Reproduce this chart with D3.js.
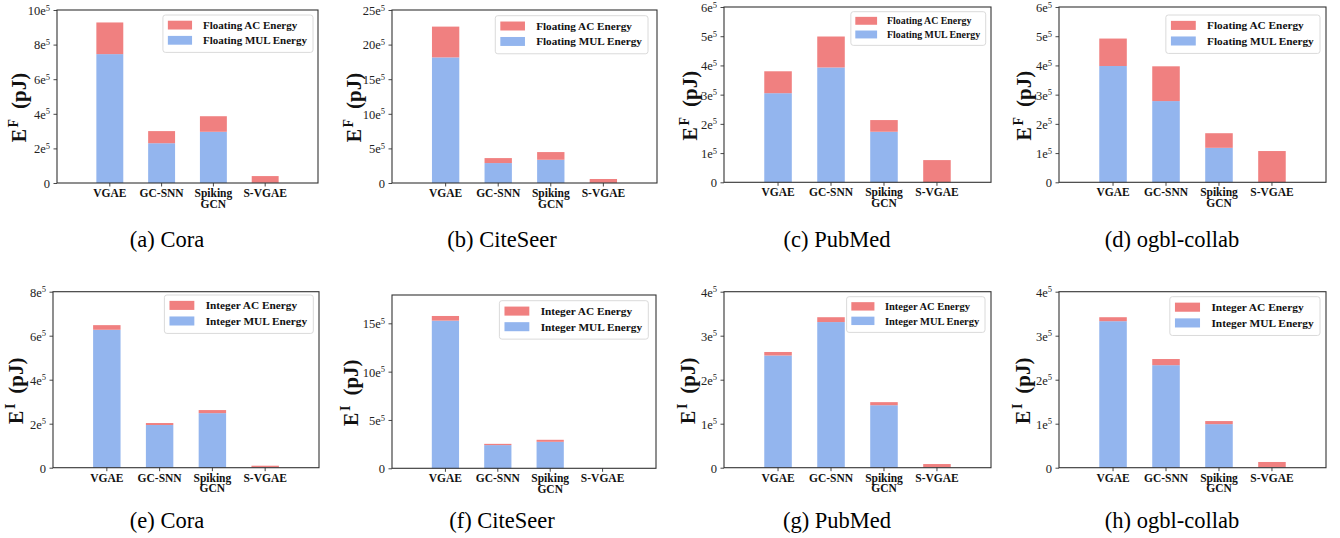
<!DOCTYPE html>
<html><head><meta charset="utf-8">
<script src="https://cdn.jsdelivr.net/npm/d3@7"></script>
<style>body{margin:0;background:#fff} svg{display:block}</style>
</head><body><svg id="chart" width="1340" height="538"></svg>
<script>
// ---------------- DATA ----------------
const categories = ["VGAE", "GC-SNN", "Spiking\nGCN", "S-VGAE"];
const datasets = ["Cora", "CiteSeer", "PubMed", "ogbl-collab"];
const captionLetters = ["a", "b", "c", "d", "e", "f", "g", "h"];

// Floating point energy (pJ)
const floatMulCora     = [745000, 230000, 296000, 1000];
const floatAcCora      = [183000, 70000, 90000, 39000];
const floatMulCiteSeer = [1815000, 288000, 336000, 2000];
const floatAcCiteSeer  = [445000, 72000, 111000, 56000];
const floatMulPubMed   = [305000, 393000, 173000, 1000];
const floatAcPubMed    = [75000, 106000, 40000, 75000];
const floatMulOgbl     = [398000, 278000, 118000, 1000];
const floatAcOgbl      = [94000, 119000, 50000, 106000];

// Integer energy (pJ)
const intMulCora     = [627000, 194000, 248000, 2000];
const intAcCora      = [21000, 9000, 14000, 7000];
const intMulCiteSeer = [1528000, 240000, 274000, 500];
const intAcCiteSeer  = [48000, 13000, 21000, 500];
const intMulPubMed   = [255000, 331000, 142000, 1000];
const intAcPubMed    = [8000, 11000, 7000, 7300];
const intMulOgbl     = [333000, 233000, 99000, 1000];
const intAcOgbl      = [9000, 14000, 7000, 12000];

// y axis limits and ticks (mantissa of 10^5)
const floatYMax  = [10e5, 25e5, 6e5, 6e5];
const floatTicks = [[0,2,4,6,8,10],[0,5,10,15,20,25],[0,1,2,3,4,5,6],[0,1,2,3,4,5,6]];
const intYMax    = [8e5, 17.93e5, 4e5, 4e5];
const intTicks   = [[0,2,4,6,8],[0,5,10,15],[0,1,2,3,4],[0,1,2,3,4]];

const floatLegend = ["Floating AC Energy", "Floating MUL Energy"];
const intLegend   = ["Integer AC Energy", "Integer MUL Energy"];

// ---------------- LAYOUT (styles/positions) ----------------
const colorMul = "#93b5ee";
const colorAc  = "#f08080";
const serif = "'Liberation Serif', 'Times New Roman', serif";

const layout = [
  {L:57,  T:10,    R:318, B:183,   lr:313,   lt:15,    lfs:11.0, ylx:31},
  {L:392, T:10,    R:657, B:183,   lr:648,   lt:15.7,  lfs:11.2, ylx:31},
  {L:724, T:7,     R:991, B:182.3, lr:985.7, lt:11.7,  lfs:9.9,  ylx:27},
  {L:1059,T:7,     R:1326,B:182.3, lr:1320,  lt:15,    lfs:11.3, ylx:28},
  {L:53,  T:291.7, R:319, B:467.7, lr:313.3, lt:295,   lfs:11.3, ylx:30},
  {L:392, T:295,   R:656, B:468.3, lr:648.3, lt:300.7, lfs:11.3, ylx:34},
  {L:724, T:291.7, R:991, B:467.7, lr:985,   lt:296.7, lfs:10.5, ylx:29},
  {L:1059,T:291.7, R:1326,B:467.7, lr:1320,  lt:296.7, lfs:11.4, ylx:29}
];

const panels = [
  {mul: floatMulCora,     ac: floatAcCora,     ymax: floatYMax[0], ticks: floatTicks[0], legend: floatLegend, sup: "F", ds: datasets[0]},
  {mul: floatMulCiteSeer, ac: floatAcCiteSeer, ymax: floatYMax[1], ticks: floatTicks[1], legend: floatLegend, sup: "F", ds: datasets[1]},
  {mul: floatMulPubMed,   ac: floatAcPubMed,   ymax: floatYMax[2], ticks: floatTicks[2], legend: floatLegend, sup: "F", ds: datasets[2]},
  {mul: floatMulOgbl,     ac: floatAcOgbl,     ymax: floatYMax[3], ticks: floatTicks[3], legend: floatLegend, sup: "F", ds: datasets[3]},
  {mul: intMulCora,       ac: intAcCora,       ymax: intYMax[0],   ticks: intTicks[0],   legend: intLegend,   sup: "I", ds: datasets[0]},
  {mul: intMulCiteSeer,   ac: intAcCiteSeer,   ymax: intYMax[1],   ticks: intTicks[1],   legend: intLegend,   sup: "I", ds: datasets[1]},
  {mul: intMulPubMed,     ac: intAcPubMed,     ymax: intYMax[2],   ticks: intTicks[2],   legend: intLegend,   sup: "I", ds: datasets[2]},
  {mul: intMulOgbl,       ac: intAcOgbl,       ymax: intYMax[3],   ticks: intTicks[3],   legend: intLegend,   sup: "I", ds: datasets[3]}
];

const svg = d3.select("#chart");

panels.forEach((p, i) => {
  const lay = layout[i];
  const g = svg.append("g");

  const x = d3.scaleBand().domain(categories).range([lay.L, lay.R])
    .paddingInner(0.48).paddingOuter(0.76);
  const y = d3.scaleLinear().domain([0, p.ymax]).range([lay.B, lay.T]);

  const rows = categories.map((c, k) => ({cat: c, mul: p.mul[k], ac: p.ac[k]}));
  const stack = d3.stack().keys(["mul", "ac"])(rows);
  const colors = {mul: colorMul, ac: colorAc};

  stack.forEach(layer => {
    g.append("g").selectAll("rect").data(layer).join("rect")
      .attr("x", d => x(d.data.cat))
      .attr("width", x.bandwidth())
      .attr("y", d => y(d[1]))
      .attr("height", d => Math.max(0, y(d[0]) - y(d[1])))
      .attr("fill", colors[layer.key]);
  });

  // y axis
  const yAxis = d3.axisLeft(y).tickValues(p.ticks.map(t => t * 1e5))
    .tickSize(3.5).tickPadding(3.5).tickFormat("");
  const ya = g.append("g").attr("transform", `translate(${lay.L},0)`).call(yAxis);
  ya.select(".domain").remove();
  ya.selectAll(".tick line").attr("stroke", "#333").attr("stroke-width", 0.9);
  ya.selectAll(".tick").each(function(d) {
    const m = Math.round(d / 1e5);
    const t = d3.select(this).append("text")
      .attr("x", -7).attr("y", 0)
      .attr("text-anchor", "end")
      .attr("fill", "#222")
      .style("font-family", serif)
      .style("font-size", "12.5px");
    if (m === 0) {
      t.attr("dy", "0.35em").text("0");
    } else {
      t.append("tspan").attr("dy", "0.35em").text(m + "e");
      t.append("tspan").attr("dy", "-0.5em").style("font-size", "8.5px").text("5");
    }
  });

  // x axis
  const xAxis = d3.axisBottom(x).tickSize(3.5).tickFormat("");
  const xa = g.append("g").attr("transform", `translate(0,${lay.B})`).call(xAxis);
  xa.select(".domain").remove();
  xa.selectAll(".tick line").attr("stroke", "#333").attr("stroke-width", 0.9);
  xa.selectAll(".tick").each(function(d) {
    const lines = d.split("\n");
    const t = d3.select(this).append("text")
      .attr("text-anchor", "middle").attr("fill", "#111")
      .style("font-family", serif).style("font-weight", "bold")
      .style("font-size", "11.5px");
    lines.forEach((ln, li) => {
      t.append("tspan").attr("x", 0).attr("y", 14 + li * 10.5).text(ln);
    });
  });

  // frame
  g.append("rect")
    .attr("x", lay.L).attr("y", lay.T)
    .attr("width", lay.R - lay.L).attr("height", lay.B - lay.T)
    .attr("fill", "none").attr("stroke", "#333").attr("stroke-width", 1.1);

  // y label
  const cy = (lay.T + lay.B) / 2 + 11;
  const yl = g.append("text")
    .attr("transform", `translate(${lay.L - lay.ylx},${cy}) rotate(-90)`)
    .attr("text-anchor", "middle")
    .attr("fill", "#111")
    .style("font-family", serif).style("font-weight", "bold");
  yl.append("tspan").style("font-size", "20px").text("E");
  yl.append("tspan").attr("dy", -8.5).attr("dx", 1.5).style("font-size", "14px").text(p.sup);
  yl.append("tspan").attr("dy", 8.5).attr("dx", 10).style("font-size", "21px").text("(pJ)");

  // legend
  const fs = lay.lfs;
  const lg = g.append("g");
  const labels = p.legend;
  const tmp = lg.append("text").style("font-family", serif).style("font-weight", "bold")
    .style("font-size", fs + "px").text(labels[1]);
  const tw = tmp.node().getComputedTextLength();
  tmp.remove();
  const bw = 0.45 * fs + 2.2 * fs + 1.0 * fs + tw + 0.55 * fs;
  const bh = 3.4 * fs;
  const bx = lay.lr - bw, by = lay.lt;
  lg.append("rect").attr("x", bx).attr("y", by).attr("width", bw).attr("height", bh)
    .attr("rx", 2.5).attr("fill", "#fff").attr("fill-opacity", 0.85)
    .attr("stroke", "#d6d6d6").attr("stroke-width", 0.9);
  const legColors = [colorAc, colorMul];
  labels.forEach((lab, k) => {
    const rowY = by + (k === 0 ? 0.92 : 2.3) * fs;
    lg.append("rect").attr("x", bx + 0.45 * fs).attr("y", rowY - 0.4 * fs)
      .attr("width", 2.2 * fs).attr("height", 0.8 * fs).attr("fill", legColors[k]);
    lg.append("text").attr("x", bx + 3.65 * fs).attr("y", rowY).attr("dy", "0.35em")
      .attr("fill", "#111")
      .style("font-family", serif).style("font-weight", "bold").style("font-size", fs + "px")
      .text(lab);
  });

  // caption
  const col = i % 4, row = Math.floor(i / 4);
  const capX = col * 335 + 167;
  const capY = row === 0 ? 247 : 528;
  svg.append("text").attr("x", capX).attr("y", capY).attr("text-anchor", "middle")
    .attr("fill", "#000")
    .style("font-family", serif).style("font-size", "22.5px")
    .text(`(${captionLetters[i]}) ${p.ds}`);
});
</script>
</body></html>
